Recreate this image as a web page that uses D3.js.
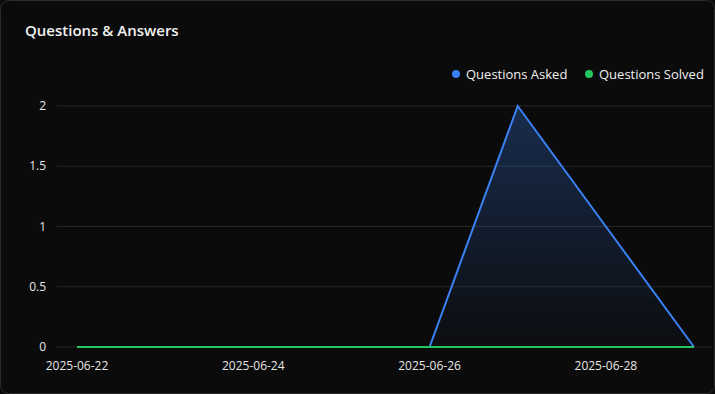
<!DOCTYPE html>
<html>
<head>
<meta charset="utf-8">
<script src="https://cdn.jsdelivr.net/npm/d3@7"></script>
<style>
  html, body { margin: 0; padding: 0; background: #0b0b0b; }
  svg { display: block; font-family: "Open Sans", "Noto Sans", sans-serif; }
  .tickLabel { fill: #e6e6e6; font-size: 12px; }
</style>
</head>
<body>
<div id="chart"></div>
<script>
var dates = ["2025-06-22","2025-06-23","2025-06-24","2025-06-25","2025-06-26","2025-06-27","2025-06-28","2025-06-29"];
var asked = [0, 0, 0, 0, 0, 2, 1, 0];
var solved = [0, 0, 0, 0, 0, 0, 0, 0];
var yTicks = [0, 0.5, 1, 1.5, 2];
var xTickLabels = ["2025-06-22","2025-06-24","2025-06-26","2025-06-28"];
var seriesNames = ["Questions Asked", "Questions Solved"];
var seriesColors = ["#3b82f6", "#22c55e"];

var width = 715, height = 394;
var svg = d3.select("#chart").append("svg")
    .attr("width", width)
    .attr("height", height);

// card
svg.append("rect")
    .attr("x", 0.5).attr("y", 0.5)
    .attr("width", width - 1).attr("height", height - 1)
    .attr("rx", 8)
    .style("fill", "#0b0b0b")
    .style("stroke", "#2c2c2c");

svg.append("text")
    .attr("x", 25).attr("y", 36)
    .style("fill", "#f2f2f2")
    .style("font-size", "15px")
    .style("font-weight", "600")
    .text("Questions & Answers");

var parse = d3.timeParse("%Y-%m-%d");
var x = d3.scaleTime()
    .domain([parse(dates[0]), parse(dates[dates.length-1])])
    .range([77, 694]);
var y = d3.scaleLinear().domain([0, 2]).range([347, 106]);

// grid
svg.selectAll(".grid")
    .data(yTicks)
    .enter().append("line")
    .attr("x1", 57).attr("x2", 712)
    .attr("y1", function(d){ return y(d); })
    .attr("y2", function(d){ return y(d); })
    .style("stroke", "#262626")
    .style("stroke-width", 1);

svg.selectAll(".yLabel")
    .data(yTicks)
    .enter().append("text")
    .attr("class", "tickLabel")
    .attr("x", 46)
    .attr("y", function(d){ return y(d) + 4; })
    .attr("text-anchor", "end")
    .text(function(d){ return d3.format("")(d); });

svg.selectAll(".xLabel")
    .data(xTickLabels)
    .enter().append("text")
    .attr("class", "tickLabel")
    .attr("x", function(d){ return x(parse(d)); })
    .attr("y", 370)
    .attr("text-anchor", "middle")
    .text(function(d){ return d; });

// gradient for area
var grad = svg.append("defs").append("linearGradient")
    .attr("id", "askedFill")
    .attr("x1", 0).attr("y1", 0).attr("x2", 0).attr("y2", 1);
grad.append("stop").attr("offset", "0%").attr("stop-color", seriesColors[0]).attr("stop-opacity", 0.28);
grad.append("stop").attr("offset", "100%").attr("stop-color", seriesColors[0]).attr("stop-opacity", 0.02);

var area = d3.area()
    .x(function(d, i){ return x(parse(dates[i])); })
    .y0(y(0))
    .y1(function(d){ return y(d); });
var line = d3.line()
    .x(function(d, i){ return x(parse(dates[i])); })
    .y(function(d){ return y(d); });

svg.append("path")
    .datum(asked)
    .attr("d", area)
    .style("fill", "url(#askedFill)");

svg.append("path")
    .datum(asked)
    .attr("d", line)
    .style("fill", "none")
    .style("stroke", seriesColors[0])
    .style("stroke-width", 2);

svg.append("path")
    .datum(solved)
    .attr("d", line)
    .style("fill", "none")
    .style("stroke", seriesColors[1])
    .style("stroke-width", 2);

// legend
var legendX = [456, 589];
var legend = svg.selectAll(".legend")
    .data(seriesNames)
    .enter().append("g")
    .attr("transform", function(d, i){ return "translate(" + legendX[i] + ",74)"; });
legend.append("circle")
    .attr("r", 4)
    .style("fill", function(d, i){ return seriesColors[i]; });
legend.append("text")
    .attr("x", 10).attr("y", 5)
    .style("fill", "#f0f0f0")
    .style("font-size", "13px")
    .text(function(d){ return d; });
</script>
</body>
</html>
